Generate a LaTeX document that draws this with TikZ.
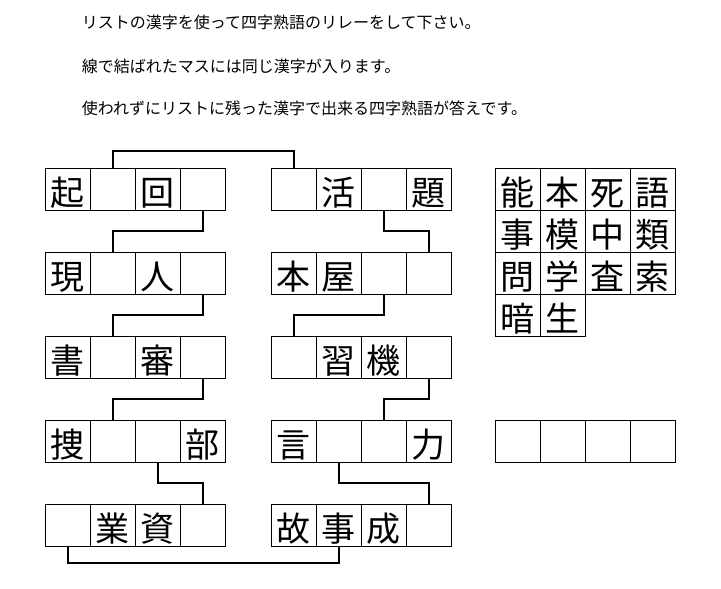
\documentclass[tikz,border=0pt]{standalone}
\usepackage{fontspec}
\newfontfamily\cjk{Noto Sans CJK JP}
\usetikzlibrary{calc}
\begin{document}
\begin{tikzpicture}[x=1pt,y=-1pt,
  cell/.style={draw,line width=1pt,minimum width=45pt,minimum height=42pt,inner sep=0pt,outer sep=0pt,anchor=north west,text height=33pt,text depth=0pt,font=\cjk\fontsize{34}{34}\selectfont},
  link/.style={line width=2pt},
  instr/.style={anchor=west,inner sep=0pt,font=\cjk\fontsize{16}{16}\selectfont}]
\useasboundingbox (0,0) rectangle (721,589);
\node[instr] (i1) at (81.7,22) {リストの漢字を使って四字熟語のリレーをして下さい。};
\node[instr] (i2) at (81.7,66.5) {線で結ばれたマスには同じ漢字が入ります。};
\node[instr] (i3) at (81.7,108.5) {使われずにリストに残った漢字で出来る四字熟語が答えです。};
\foreach \n/\x/\y/\a/\b/\c/\d in {
  L1/45.3/168.3/起/{}/回/{},
  L2/45.3/252.3/現/{}/人/{},
  L3/45.3/336.3/書/{}/審/{},
  L4/45.3/420.3/捜/{}/{}/部,
  L5/45.3/504.3/{}/業/資/{},
  M1/271/168.3/{}/活/{}/題,
  M2/271/252.3/本/屋/{}/{},
  M3/271/336.3/{}/習/機/{},
  M4/271/420.3/言/{}/{}/力,
  M5/271/504.3/故/事/成/{},
  R1/495.3/168.3/能/本/死/語,
  R2/495.3/210.3/事/模/中/類,
  R3/495.3/252.3/問/学/査/索,
  A1/495.3/420.3/{}/{}/{}/{}}{
  \node[cell] (\n-a) at (\x,\y) {\a};
  \node[cell] (\n-b) at (\x+45,\y) {\b};
  \node[cell] (\n-c) at (\x+90,\y) {\c};
  \node[cell] (\n-d) at (\x+135,\y) {\d};
}
\node[cell] (R4-a) at (495.3,294.3) {暗};
\node[cell] (R4-b) at (540.3,294.3) {生};
% connectors
\coordinate (top) at (200,151);
\coordinate (bot) at (200,563.3);
\draw[link] (L1-b.north) |- (top) -| (M1-a.north);
\draw[link] (L5-a.south) |- (bot) -| (M5-b.south);
\foreach \p/\q in {L1-d/L2-b,L2-d/L3-b,L3-d/L4-b,L4-c/L5-d,M1-c/M2-d,M2-c/M3-a,M3-d/M4-c,M4-b/M5-d}{
  \draw[link] (\p.south) |- ($(\p.south)!.5!(\q.north)$) -| (\q.north);
}
\end{tikzpicture}
\end{document}
